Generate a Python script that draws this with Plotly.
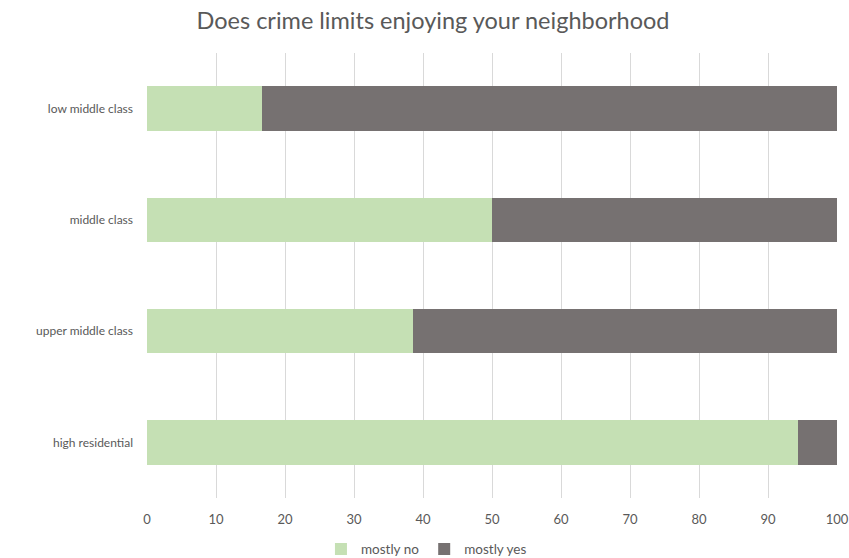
import plotly.graph_objects as go

categories = ["high residential", "upper middle class", "middle class", "low middle class"]
mostly_no = [94.4, 38.5, 50.0, 16.7]
mostly_yes = [5.6, 61.5, 50.0, 83.3]
x_ticks = [0, 10, 20, 30, 40, 50, 60, 70, 80, 90, 100]

font_family = "Lato, Open Sans, sans-serif"
text_color = "#595959"

fig = go.Figure()
fig.add_trace(go.Bar(y=categories, x=mostly_no, name="mostly no", orientation="h",
                     marker=dict(color="#C5E0B4", line=dict(width=0))))
fig.add_trace(go.Bar(y=categories, x=mostly_yes, name="mostly yes", orientation="h",
                     marker=dict(color="#767171", line=dict(width=0))))

fig.update_layout(
    width=849, height=558,
    barmode="stack", bargap=0.6,
    paper_bgcolor="white", plot_bgcolor="white",
    margin=dict(l=147, r=12, t=53, b=60, autoexpand=False),
    font=dict(family=font_family, color=text_color, size=13),
    title=dict(text="Does crime limits enjoying your neighborhood", x=0.51, xanchor="center",
               y=0.962, yanchor="middle", font=dict(size=23.5, color=text_color, family=font_family)),
    legend=dict(orientation="h", x=0.405, xanchor="center", y=-0.115, yanchor="middle",
                font=dict(size=13.5, color=text_color), itemwidth=30, traceorder="normal"),
    xaxis=dict(range=[0, 100], tickvals=x_ticks, showgrid=True, gridcolor="#D9D9D9", gridwidth=1,
               zeroline=False, showline=False, ticks="", tickfont=dict(size=13, color=text_color),
               ticklabelstandoff=12, automargin=False),
    yaxis=dict(categoryorder="array", categoryarray=categories, showgrid=False, zeroline=False,
               showline=False, ticks="", tickfont=dict(size=12, color=text_color),
               ticklabelstandoff=13, automargin=False),
)

fig.write_html("out.html", config={"displayModeBar": False},
               post_script="document.body.style.margin='0px';document.body.style.overflow='hidden';")
